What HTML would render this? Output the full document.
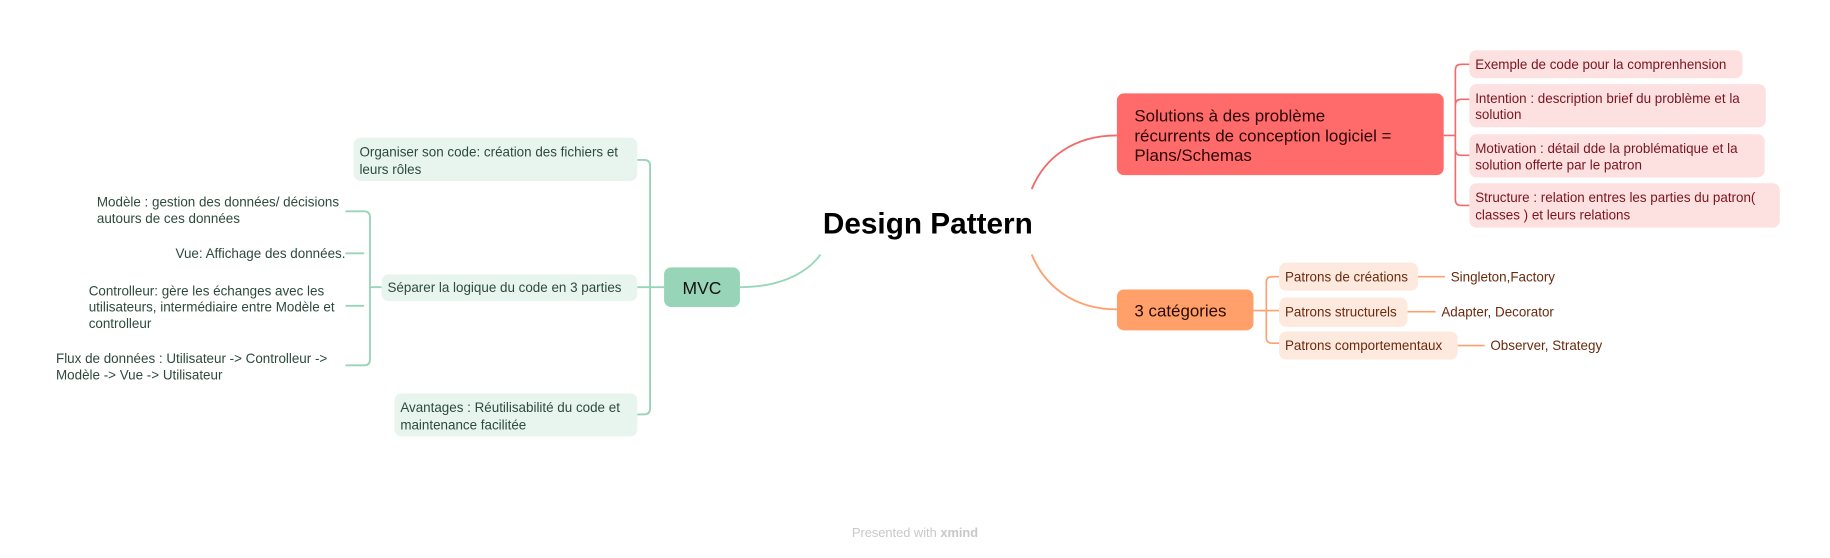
<!DOCTYPE html>
<html><head><meta charset="utf-8"><style>
html,body{margin:0;padding:0;background:#fff;width:1830px;height:558px;overflow:hidden}
svg{display:block}
text{font-family:"Liberation Sans",sans-serif}
.g{fill:#2d4a3c;font-size:11.5px}
.r{fill:#7a1520;font-size:11.5px}
.o{fill:#6b2a0e;font-size:11.5px}
</style></head><body>
<svg width="1830" height="558" viewBox="0 0 1568 478" xmlns="http://www.w3.org/2000/svg">
<path d="M703,218 C690,236 665,246 634,246" stroke="#9ad6bb" stroke-width="1.6" fill="none"/>
<path d="M884,162 C895,135 920,116 957,116" stroke="#f26b6b" stroke-width="1.6" fill="none"/>
<path d="M884,218 C895,245 920,265 957,265" stroke="#ffa070" stroke-width="1.6" fill="none"/>
<text x="795" y="200" text-anchor="middle" font-size="25.5" font-weight="bold" fill="#000">Design Pattern</text>

<rect x="569" y="229" width="65" height="34" rx="6" fill="#98d5b8"/>
<text x="601.5" y="252" text-anchor="middle" font-size="15" fill="#111">MVC</text>
<g stroke="#98d5b8" stroke-width="1.6" fill="none">
<path d="M569,246 H546"/>
<path d="M546,137 H552 Q557,137 557,142 V350 Q557,355 552,355 H546"/>
<path d="M327,246 H317"/>
<path d="M296,181 H312 Q317,181 317,186 V308 Q317,313 312,313 H296"/>
<path d="M296,217 H312"/>
<path d="M296,262 H312"/>
</g>
<rect x="303" y="118" width="243" height="37" rx="6" fill="#e8f5ee"/>
<text class="g" x="308" y="134">Organiser son code: création des fichiers et</text>
<text class="g" x="308" y="149">leurs rôles</text>
<rect x="327" y="235" width="219" height="23" rx="6" fill="#e8f5ee"/>
<text class="g" x="332" y="250">Séparer la logique du code en 3 parties</text>
<rect x="338" y="337" width="208" height="37" rx="6" fill="#e8f5ee"/>
<text class="g" x="343" y="353">Avantages : Réutilisabilité du code et</text>
<text class="g" x="343" y="368">maintenance facilitée</text>
<text class="g" x="83" y="177">Modèle : gestion des données/ décisions</text>
<text class="g" x="83" y="191">autours de ces données</text>
<text class="g" x="296" y="221" text-anchor="end">Vue: Affichage des données.</text>
<text class="g" x="76" y="253">Controlleur: gère les échanges avec les</text>
<text class="g" x="76" y="267">utilisateurs, intermédiaire entre Modèle et</text>
<text class="g" x="76" y="281">controlleur</text>
<text class="g" x="48" y="311">Flux de données : Utilisateur -&gt;  Controlleur -&gt;</text>
<text class="g" x="48" y="325">Modèle -&gt; Vue -&gt; Utilisateur</text>

<rect x="957" y="80" width="280" height="70" rx="6" fill="#ff6b6b"/>
<text x="972" y="104" font-size="14.5" fill="#2a0505">Solutions à des problème</text>
<text x="972" y="121" font-size="14.5" fill="#2a0505">récurrents de conception logiciel =</text>
<text x="972" y="138" font-size="14.5" fill="#2a0505">Plans/Schemas</text>
<g stroke="#f26b6b" stroke-width="1.4" fill="none">
<path d="M1237,116 H1247"/>
<path d="M1259,55 H1252 Q1247,55 1247,60 V171 Q1247,176 1252,176 H1259"/>
<path d="M1247,90 Q1247,85 1252,85 H1259"/>
<path d="M1247,128 Q1247,133 1252,133 H1259"/>
</g>
<rect x="1259" y="43" width="234" height="24" rx="6" fill="#fde0e0"/>
<text class="r" x="1264" y="59">Exemple de code pour la comprenhension</text>
<rect x="1259" y="72" width="254" height="37" rx="6" fill="#fde0e0"/>
<text class="r" x="1264" y="88">Intention : description brief du problème et la</text>
<text class="r" x="1264" y="102">solution</text>
<rect x="1259" y="115" width="253" height="37" rx="6" fill="#fde0e0"/>
<text class="r" x="1264" y="131">Motivation : détail dde la problématique et la</text>
<text class="r" x="1264" y="145">solution offerte par le patron</text>
<rect x="1259" y="157" width="266" height="38" rx="6" fill="#fde0e0"/>
<text class="r" x="1264" y="173">Structure : relation entres les parties du patron(</text>
<text class="r" x="1264" y="188">classes ) et leurs relations</text>

<rect x="957" y="248" width="117" height="35" rx="6" fill="#ff9f69"/>
<text x="972" y="271" font-size="14.5" fill="#2a0a00">3 catégories</text>
<g stroke="#ffa070" stroke-width="1.4" fill="none">
<path d="M1074,266 H1096"/>
<path d="M1096,237 H1090 Q1085,237 1085,242 V289 Q1085,294 1090,294 H1096"/>
<path d="M1215,237 H1238"/>
<path d="M1206,267 H1230"/>
<path d="M1249,296 H1272"/>
</g>
<rect x="1096" y="225" width="119" height="24" rx="6" fill="#fde9de"/>
<text class="o" x="1101" y="241">Patrons de créations</text>
<text class="o" x="1243" y="241">Singleton,Factory</text>
<rect x="1096" y="255" width="110" height="25" rx="6" fill="#fde9de"/>
<text class="o" x="1101" y="271">Patrons structurels</text>
<text class="o" x="1235" y="271">Adapter, Decorator</text>
<rect x="1096" y="284" width="153" height="24" rx="6" fill="#fde9de"/>
<text class="o" x="1101" y="300">Patrons comportementaux</text>
<text class="o" x="1277" y="300">Observer, Strategy</text>

<text x="784" y="460" text-anchor="middle" font-size="11" fill="#c8c8c8">Presented with <tspan font-weight="bold">xmind</tspan></text>
</svg>
</body></html>
